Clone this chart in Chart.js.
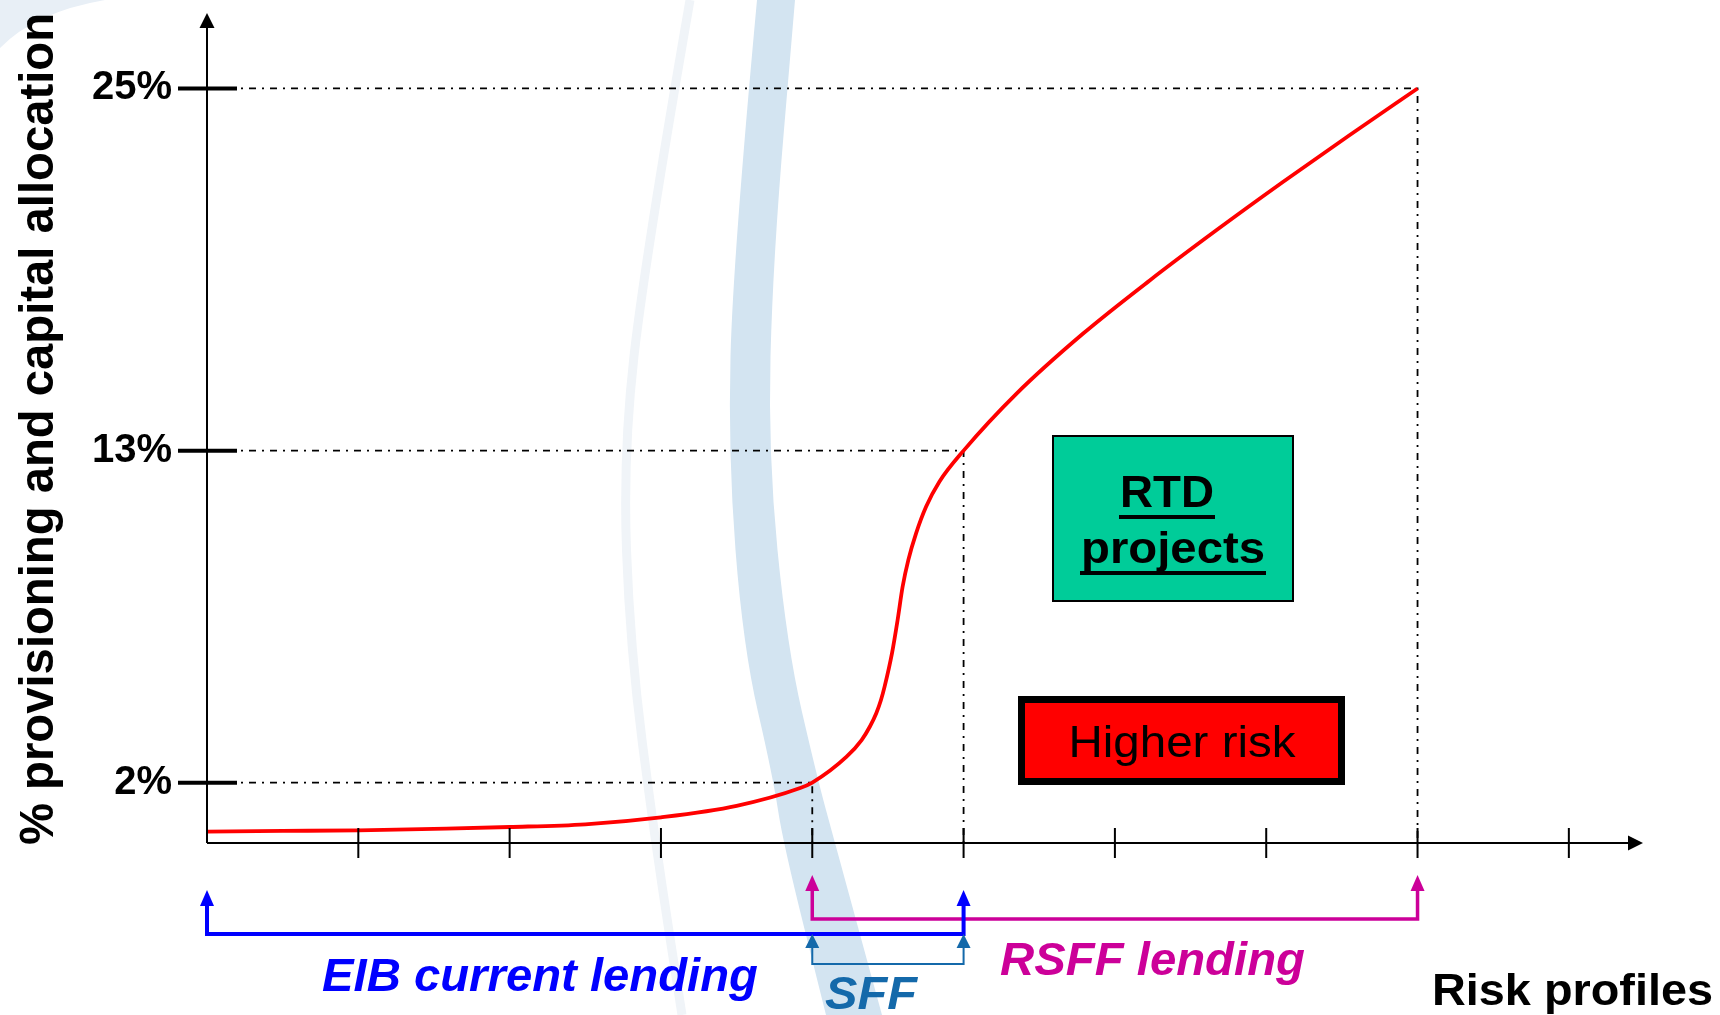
<!DOCTYPE html>
<html>
<head>
<meta charset="utf-8">
<script src="https://cdn.jsdelivr.net/npm/chart.js@4.4.1/dist/chart.umd.min.js"></script>
<style>
  html, body { margin: 0; padding: 0; background: #fff; }
  #wrap { width: 1720px; height: 1015px; }
</style>
</head>
<body>
<div id="wrap"><canvas id="riskChart"></canvas></div>
<script>
// risk profile (x, in tick units) and % provisioning (y)
const riskX = [0, 0.5, 1, 1.5, 2, 2.5, 3, 3.5, 3.92, 4.0, 4.227, 4.326, 4.381, 4.423, 4.454, 4.478, 4.527, 4.564, 4.597, 4.635, 4.686, 4.752, 4.84, 5.0, 5.35, 5.79, 6.23, 6.67, 7.11, 7.55, 8.0];
const provisioning = [0.38, 0.40, 0.42, 0.47, 0.53, 0.62, 0.85, 1.23, 1.82, 2.0, 2.86, 3.41, 3.86, 4.30, 4.74, 5.18, 6.29, 7.39, 8.49, 9.38, 10.26, 11.14, 11.97, 13.0, 14.89, 16.88, 18.64, 20.3, 21.9, 23.45, 25.0];

// marked levels and where the curve reaches them
const levels = [2, 13, 25];
const levelLabels = ['2%', '13%', '25%'];
const levelRisk = [4, 5, 8];

// x axis tick marks
const xTicks = [1, 2, 3, 4, 5, 6, 7, 8, 9];

// lending ranges shown under the axis
const rangeNames = ['RSFF lending', 'EIB current lending', 'SFF'];
const rangeFrom = [4, 0, 4];
const rangeTo = [8, 5, 5];
const rangeColors = ['#cc0099', '#0000ff', '#1469aa'];

const FONT = '"Liberation Sans", Arial, sans-serif';

function fitText(ctx, text, x, y, w, font, color, align) {
  ctx.save();
  ctx.font = font;
  ctx.fillStyle = color;
  ctx.textBaseline = 'alphabetic';
  ctx.textAlign = align || 'left';
  const k = w / ctx.measureText(text).width;
  ctx.translate(x, y);
  ctx.scale(k, 1);
  ctx.fillText(text, 0, 0);
  ctx.restore();
  return w;
}

function smoothPath(ctx, pts, move) {
  if (move) ctx.moveTo(pts[0][0], pts[0][1]); else ctx.lineTo(pts[0][0], pts[0][1]);
  for (let i = 1; i < pts.length - 1; i++) {
    const mx = (pts[i][0] + pts[i + 1][0]) / 2, my = (pts[i][1] + pts[i + 1][1]) / 2;
    ctx.quadraticCurveTo(pts[i][0], pts[i][1], mx, my);
  }
  const last = pts[pts.length - 1];
  ctx.lineTo(last[0], last[1]);
}

function upArrow(ctx, x, tip, h, hw) {
  ctx.beginPath();
  ctx.moveTo(x, tip);
  ctx.lineTo(x - hw, tip + h);
  ctx.lineTo(x + hw, tip + h);
  ctx.closePath();
  ctx.fill();
}

const decor = {
  id: 'decor',
  beforeDraw(chart) {
    const ctx = chart.ctx;
    ctx.save();
    ctx.fillStyle = '#fff';
    ctx.fillRect(0, 0, chart.width, chart.height);

    // pale watermark in the top left corner
    ctx.fillStyle = '#e8eff6';
    ctx.beginPath();
    ctx.moveTo(0, 0);
    ctx.lineTo(105, 0);
    ctx.quadraticCurveTo(35, 12, 0, 48);
    ctx.closePath();
    ctx.fill();

    // thin faint arc
    ctx.strokeStyle = '#f0f4f8';
    ctx.lineWidth = 9;
    ctx.beginPath();
    smoothPath(ctx, [[690, 0], [645, 259], [623, 453], [630, 647], [655, 841], [682, 1015]], true);
    ctx.stroke();

    // thick arc band
    const left = [[757, 0], [733, 259], [728, 453], [743, 647], [773, 777], [783, 843], [826, 1015]];
    const right = [[795, 0], [773, 259], [768, 453], [787, 647], [817, 777], [835, 843], [882, 1015]];
    ctx.fillStyle = '#d3e4f1';
    ctx.beginPath();
    smoothPath(ctx, left, true);
    smoothPath(ctx, right.slice().reverse(), false);
    ctx.closePath();
    ctx.fill();
    ctx.restore();
  },
  afterDatasetsDraw(chart) {
    const ctx = chart.ctx;
    const xs = chart.scales.x, ys = chart.scales.y;
    const x0 = xs.getPixelForValue(0), y0 = ys.getPixelForValue(0);
    ctx.save();
    ctx.fillStyle = '#000';
    ctx.strokeStyle = '#000';

    // axes with arrow heads
    ctx.lineWidth = 2;
    ctx.beginPath();
    ctx.moveTo(x0, y0);
    ctx.lineTo(x0, ys.top + 14);
    ctx.moveTo(x0, y0);
    ctx.lineTo(xs.right - 14, y0);
    ctx.stroke();
    ctx.beginPath();
    ctx.moveTo(x0, ys.top);
    ctx.lineTo(x0 - 7.5, ys.top + 15);
    ctx.lineTo(x0 + 7.5, ys.top + 15);
    ctx.closePath();
    ctx.fill();
    ctx.beginPath();
    ctx.moveTo(xs.right, y0);
    ctx.lineTo(xs.right - 15, y0 - 7.5);
    ctx.lineTo(xs.right - 15, y0 + 7.5);
    ctx.closePath();
    ctx.fill();

    // x ticks
    ctx.lineWidth = 2;
    ctx.beginPath();
    xTicks.forEach(v => {
      const px = xs.getPixelForValue(v);
      ctx.moveTo(px, y0 - 15);
      ctx.lineTo(px, y0 + 15);
    });
    ctx.stroke();

    // y ticks and labels
    ctx.lineWidth = 4;
    levels.forEach((v, i) => {
      const py = ys.getPixelForValue(v);
      ctx.beginPath();
      ctx.moveTo(x0 - 29, py);
      ctx.lineTo(x0 + 30, py);
      ctx.stroke();
      ctx.font = 'bold 40px ' + FONT;
      ctx.textAlign = 'right';
      ctx.textBaseline = 'alphabetic';
      ctx.fillText(levelLabels[i], x0 - 35, py + 11);
    });

    // y axis title
    ctx.save();
    ctx.translate(53, 429);
    ctx.rotate(-Math.PI / 2);
    fitText(ctx, '% provisioning and capital allocation', 0, 0, 832, 'bold 48px ' + FONT, '#000', 'center');
    ctx.restore();

    // RTD projects box
    ctx.fillStyle = '#00cc99';
    ctx.fillRect(1052, 435, 242, 167);
    ctx.lineWidth = 2;
    ctx.strokeStyle = '#000';
    ctx.strokeRect(1053, 436, 240, 165);
    [['RTD', 1167, 507, 94], ['projects', 1173, 563, 184]].forEach(t => {
      fitText(ctx, t[0], t[1], t[2], t[3], 'bold 45px ' + FONT, '#000', 'center');
      ctx.fillStyle = '#000';
      ctx.fillRect(t[1] - t[3] / 2 - 1, t[2] + 8, t[3] + 2, 4);
    });

    // Higher risk box
    ctx.fillStyle = '#ff0000';
    ctx.fillRect(1018, 696, 327, 89);
    ctx.lineWidth = 7;
    ctx.strokeStyle = '#000';
    ctx.strokeRect(1021.5, 699.5, 320, 82);
    fitText(ctx, 'Higher risk', 1182, 757, 227, '45px ' + FONT, '#000', 'center');

    // lending range brackets
    const bracket = { tip: [875, 890, 934], base: [919, 934, 964], lw: [3.5, 4, 2], ah: [16, 16, 14], hw: [7, 7, 7] };
    rangeNames.forEach((name, i) => {
      const a = xs.getPixelForValue(rangeFrom[i]), b = xs.getPixelForValue(rangeTo[i]);
      ctx.strokeStyle = rangeColors[i];
      ctx.fillStyle = rangeColors[i];
      ctx.lineWidth = bracket.lw[i];
      ctx.lineJoin = 'miter';
      ctx.beginPath();
      ctx.moveTo(a, bracket.tip[i] + bracket.ah[i] - 2);
      ctx.lineTo(a, bracket.base[i]);
      ctx.lineTo(b, bracket.base[i]);
      ctx.lineTo(b, bracket.tip[i] + bracket.ah[i] - 2);
      ctx.stroke();
      upArrow(ctx, a, bracket.tip[i], bracket.ah[i], bracket.hw[i]);
      upArrow(ctx, b, bracket.tip[i], bracket.ah[i], bracket.hw[i]);
    });

    // range captions
    fitText(ctx, 'EIB current lending', 322, 991, 436, 'italic bold 46px ' + FONT, rangeColors[1]);
    fitText(ctx, 'SFF', 825, 1009, 92, 'italic bold 47px ' + FONT, rangeColors[2]);
    fitText(ctx, 'RSFF lending', 1000, 975, 305, 'italic bold 47px ' + FONT, rangeColors[0]);
    fitText(ctx, 'Risk profiles', 1432, 1005, 281, 'bold 45px ' + FONT, '#000');
    ctx.restore();
  }
};

const dashDot = [7, 6, 2, 6];
const curveData = riskX.map((x, i) => ({ x: x, y: provisioning[i] }));
const refSets = levels.map((lv, i) => ({
  data: [{ x: 0, y: lv }, { x: levelRisk[i], y: lv }, { x: levelRisk[i], y: 0 }],
  borderColor: '#000',
  borderWidth: 1.8,
  borderDash: dashDot,
  pointRadius: 0,
  showLine: true,
  tension: 0
}));

new Chart(document.getElementById('riskChart'), {
  type: 'scatter',
  data: {
    datasets: [{
      data: curveData,
      borderColor: '#ff0000',
      borderWidth: 3.8,
      pointRadius: 0,
      showLine: true,
      cubicInterpolationMode: 'monotone'
    }].concat(refSets)
  },
  options: {
    responsive: true,
    maintainAspectRatio: false,
    animation: false,
    devicePixelRatio: 1,
    layout: { padding: { left: 207, right: 77, top: 13, bottom: 172 } },
    plugins: { legend: { display: false }, tooltip: { enabled: false } },
    scales: {
      x: { type: 'linear', min: 0, max: 9.49, display: false },
      y: { type: 'linear', min: 0, max: 27.5, display: false }
    }
  },
  plugins: [decor]
});
</script>
</body>
</html>
